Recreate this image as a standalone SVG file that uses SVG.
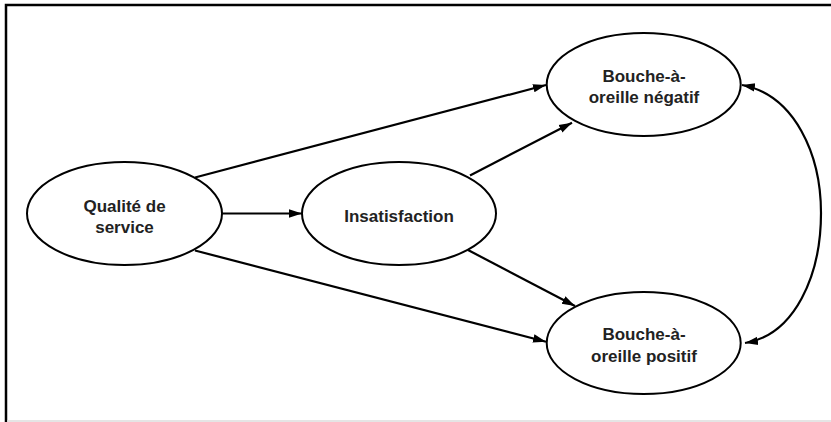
<svg xmlns="http://www.w3.org/2000/svg" width="831" height="422" viewBox="0 0 831 422">
<style>
.node ellipse{fill:#fff;stroke:#000;stroke-width:2}
.node text{font-family:"Liberation Sans",Arial,sans-serif;font-weight:bold;font-size:17px;fill:#222;text-anchor:middle}
.edge{fill:none;stroke:#000;stroke-width:2.2}
</style>
<defs>
<marker id="ah" markerUnits="userSpaceOnUse" markerWidth="14" markerHeight="10" refX="13" refY="5" orient="auto">
<path d="M0,0.8 L13,5 L0,9.2 Z" fill="#000"/>
</marker>
<marker id="ahs" markerUnits="userSpaceOnUse" markerWidth="14" markerHeight="10" refX="1" refY="5" orient="auto">
<path d="M14,0.8 L1,5 L14,9.2 Z" fill="#000"/>
</marker>
</defs>
<rect width="831" height="422" fill="#fff"/>
<g id="frame">
<path d="M6,422 L6,5 L831,5" fill="none" stroke="#000" stroke-width="2.5"/>
<line x1="7" y1="421" x2="831" y2="421" stroke="#ddd" stroke-width="1.5"/>
</g>
<g id="connectors">
<line class="edge" x1="195" y1="177.5" x2="546" y2="85" marker-end="url(#ah)"/>
<line class="edge" x1="221.5" y1="213.5" x2="302" y2="213.5" marker-end="url(#ah)"/>
<line class="edge" x1="195" y1="250.5" x2="546" y2="341.7" marker-end="url(#ah)"/>
<line class="edge" x1="470" y1="175.5" x2="572" y2="122.7" marker-end="url(#ah)"/>
<line class="edge" x1="468" y1="250" x2="575" y2="306" marker-end="url(#ah)"/>
<path class="edge" d="M742,85 C795,95 821,155 821,213 C821,275 795,335 745,343" marker-start="url(#ahs)" marker-end="url(#ah)"/>
</g>
<g id="qualite" class="node">
<ellipse cx="124.5" cy="213.5" rx="97.5" ry="51.5"/>
<text x="124.5" y="211.5">Qualité de</text>
<text x="124.5" y="232.5">service</text>
</g>
<g id="insatisfaction" class="node">
<ellipse cx="399" cy="213.5" rx="97" ry="51.5"/>
<text x="399" y="222">Insatisfaction</text>
</g>
<g id="negatif" class="node">
<ellipse cx="643.7" cy="84.5" rx="97" ry="51.5"/>
<text x="644" y="81.5">Bouche-à-</text>
<text x="644" y="103">oreille négatif</text>
</g>
<g id="positif" class="node">
<ellipse cx="643.7" cy="343" rx="97" ry="51"/>
<text x="644" y="340">Bouche-à-</text>
<text x="644" y="361.5">oreille positif</text>
</g>
</svg>
